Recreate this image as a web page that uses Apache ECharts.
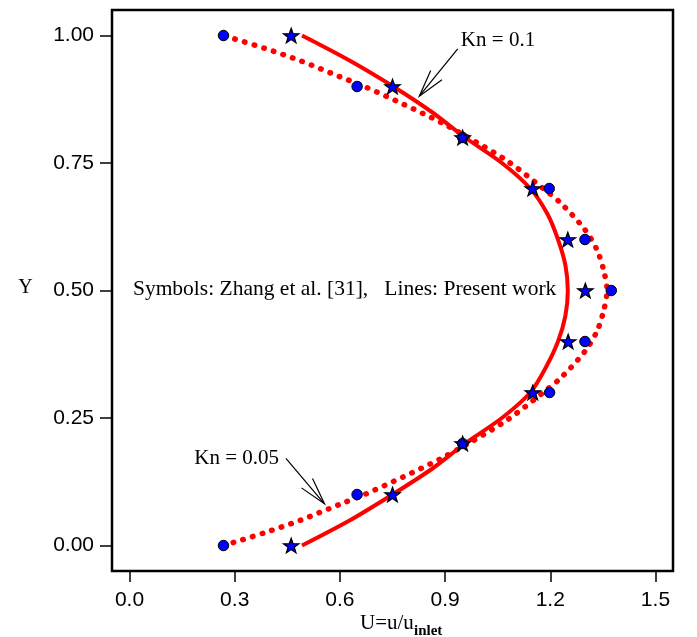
<!DOCTYPE html>
<html><head><meta charset="utf-8">
<script src="https://cdn.jsdelivr.net/npm/echarts@6/dist/echarts.min.js"></script>
<style>html,body{margin:0;padding:0;background:#fff}#c{width:697px;height:637px}</style>
</head><body><div id="c"></div>
<script>
// ---- data ----
const symY = [0, 0.1, 0.2, 0.3, 0.4, 0.5, 0.6, 0.7, 0.8, 0.9, 1.0];
const zhangKn005U = [0.268, 0.649, 0.950, 1.198, 1.299, 1.374, 1.299, 1.197, 0.950, 0.649, 0.268];
const zhangKn01U  = [0.461, 0.750, 0.950, 1.150, 1.251, 1.300, 1.250, 1.150, 0.950, 0.750, 0.461];

const presKn005Y = [0, 0.025, 0.05, 0.08, 0.10, 0.135, 0.17, 0.20, 0.245, 0.30, 0.33, 0.38, 0.42, 0.46, 0.50, 0.54, 0.58, 0.62, 0.67, 0.70, 0.755, 0.80, 0.83, 0.865, 0.90, 0.92, 0.95, 0.975, 1.0];
const presKn005U = [0.268, 0.385, 0.489, 0.597, 0.670, 0.782, 0.887, 0.966, 1.075, 1.180, 1.232, 1.298, 1.333, 1.352, 1.362, 1.352, 1.333, 1.298, 1.232, 1.180, 1.075, 0.966, 0.887, 0.782, 0.670, 0.597, 0.489, 0.385, 0.268];

const presKn01Y = [0, 0.05, 0.1, 0.15, 0.2, 0.25, 0.3, 0.35, 0.4, 0.45, 0.5, 0.55, 0.6, 0.65, 0.7, 0.75, 0.8, 0.85, 0.9, 0.95, 1.0];
const presKn01U = [0.492, 0.630, 0.750, 0.862, 0.957, 1.062, 1.143, 1.188, 1.222, 1.243, 1.250, 1.243, 1.222, 1.192, 1.143, 1.062, 0.957, 0.862, 0.752, 0.630, 0.492];

const xTicks = [0, 0.3, 0.6, 0.9, 1.2, 1.5];
const yTicks = [0, 0.25, 0.5, 0.75, 1.0];

const noteText = 'Symbols: Zhang et al. [31],   Lines: Present work';
const labelKn01 = 'Kn = 0.1';
const labelKn005 = 'Kn = 0.05';
// annotation anchors in data coordinates [U, Y]
const noteAt = [0.0097, 0.5017];
const kn01At = [0.945, 0.991];
const kn005At = [0.1846, 0.1706];
const arrowKn01 = {tail: [0.936, 0.974], tip: [0.8265, 0.881]};
const arrowKn005 = {tail: [0.446, 0.171], tip: [0.556, 0.0817]};

function pairs(us, ys) { return us.map((u, i) => [u, ys[i]]); }

const STAR = 'path://M0,-10 L2.35,-3.24 L9.51,-3.09 L3.8,1.24 L5.88,8.09 L0,4 L-5.88,8.09 L-3.8,1.24 L-9.51,-3.09 L-2.35,-3.24 Z';
const SERIF = '"Liberation Serif", "Times New Roman", serif';
const SANS = '"Liberation Sans", Arial, sans-serif';

const chart = echarts.init(document.getElementById('c'), null, {renderer: 'canvas'});
const option = {
  animation: false,
  backgroundColor: '#fff',
  grid: {left: 112, top: 10, right: 24, bottom: 66, show: true, borderColor: '#000', borderWidth: 2.5, backgroundColor: 'transparent'},
  xAxis: {
    type: 'value', min: -0.05, max: 1.55,
    axisLine: {show: false, onZero: false},
    splitLine: {show: false},
    axisTick: {show: true, inside: false, length: 11, customValues: xTicks, lineStyle: {color: '#000', width: 1.5}},
    axisLabel: {customValues: xTicks, margin: 19, color: '#000', fontSize: 21, fontFamily: SANS,
      formatter: v => v.toFixed(1)}
  },
  yAxis: {
    type: 'value', min: -0.05, max: 1.05,
    axisLine: {show: false, onZero: false},
    splitLine: {show: false},
    axisTick: {show: true, inside: false, length: 12, customValues: yTicks, lineStyle: {color: '#000', width: 1.5}},
    axisLabel: {customValues: yTicks, margin: 18, color: '#000', fontSize: 21, fontFamily: SANS,
      formatter: v => v.toFixed(2)}
  },
  series: [
    {type: 'line', name: 'Present Kn=0.05', data: pairs(presKn005U, presKn005Y), smooth: 0.3,
      showSymbol: false, symbol: 'none', z: 2,
      lineStyle: {color: '#ff0000', width: 5.5, type: [0.5, 9.6], cap: 'round'}},
    {type: 'line', name: 'Present Kn=0.1', data: pairs(presKn01U, presKn01Y), smooth: 0.3,
      showSymbol: false, symbol: 'none', z: 3,
      lineStyle: {color: '#ff0000', width: 4}},
    {type: 'scatter', name: 'Zhang Kn=0.05', data: pairs(zhangKn005U, symY), symbol: 'circle', symbolSize: 10.5, z: 5,
      itemStyle: {color: '#0000ff', opacity: 1, borderColor: '#000', borderWidth: 1}},
    {type: 'scatter', name: 'Zhang Kn=0.1', data: pairs(zhangKn01U, symY), symbol: STAR, symbolSize: [15.5, 14.5], z: 6,
      itemStyle: {color: '#0000ff', opacity: 1, borderColor: '#000', borderWidth: 1.2}}
  ]
};
chart.setOption(option);

function px(p) { return chart.convertToPixel({gridIndex: 0}, p); }
function arrow(a) {
  const t = px(a.tip), s = px(a.tail);
  let dx = s[0] - t[0], dy = s[1] - t[1];
  const len = Math.hypot(dx, dy); dx /= len; dy /= len;
  const L = 28, ang = 15 * Math.PI / 180;
  const b = sgn => {
    const c = Math.cos(sgn * ang), sn = Math.sin(sgn * ang);
    return [t[0] + L * (dx * c - dy * sn), t[1] + L * (dx * sn + dy * c)];
  };
  const ls = {stroke: '#000', lineWidth: 1.2};
  return [
    {type: 'line', z: 100, shape: {x1: s[0], y1: s[1], x2: t[0], y2: t[1]}, style: ls},
    {type: 'polyline', z: 100, shape: {points: [b(1), t, b(-1)]}, style: Object.assign({fill: null}, ls)}
  ];
}
function text(str, at, size) {
  const p = px(at);
  return {type: 'text', z: 100, x: p[0], y: p[1],
    style: {text: str, fontSize: size, fontFamily: SERIF, fill: '#000', align: 'left', verticalAlign: 'middle'}};
}
chart.setOption({graphic: [
  text(noteText, noteAt, 21.5),
  text(labelKn01, kn01At, 21),
  text(labelKn005, kn005At, 21),
  ...arrow(arrowKn01),
  ...arrow(arrowKn005),
  {type: 'text', z: 100, x: 25.5, y: 288, style: {text: 'Y', fontSize: 20, fontFamily: SERIF, fill: '#000', align: 'center', verticalAlign: 'middle'}},
  {type: 'text', z: 100, x: 360, y: 623, style: {text: 'U=u/u', fontSize: 21, fontFamily: SERIF, fill: '#000', align: 'left', verticalAlign: 'middle'}},
  {type: 'text', z: 100, x: 414, y: 631, style: {text: 'inlet', fontSize: 15, fontWeight: 'bold', fontFamily: SERIF, fill: '#000', align: 'left', verticalAlign: 'middle'}}
]});
</script>
</body></html>
